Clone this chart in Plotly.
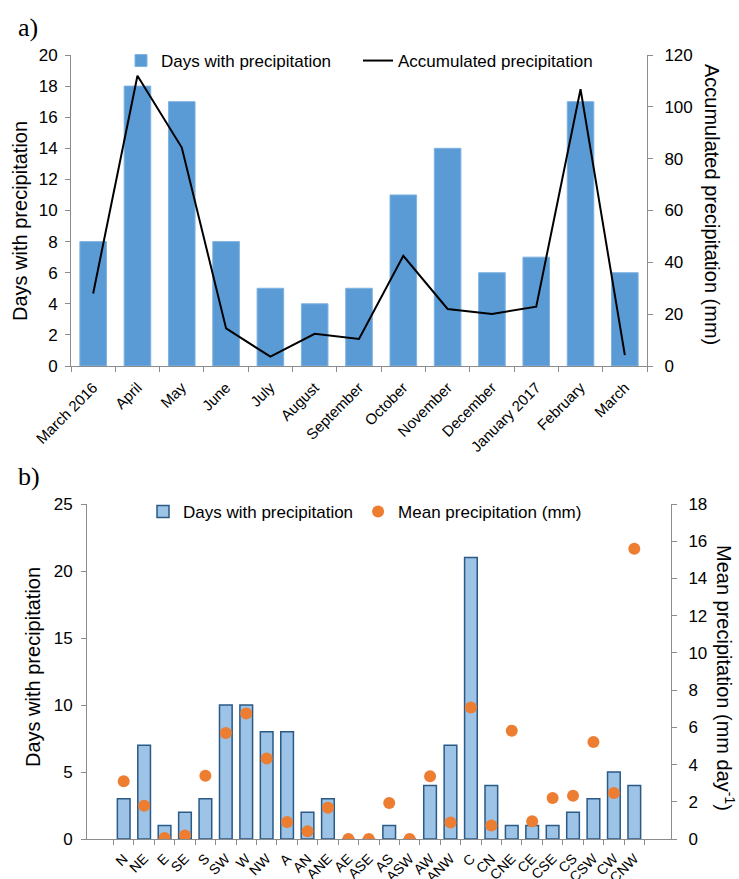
import plotly.graph_objects as go

# Panel a: monthly data
months = ["March 2016", "April", "May", "June", "July", "August", "September",
          "October", "November", "December", "January 2017", "February", "March"]
days_month = [8, 18, 17, 8, 5, 4, 5, 11, 14, 6, 7, 17, 6]
accum_precip = [28, 112, 84.3, 14.5, 3.6, 12.4, 10.4, 42.5, 22, 20.1, 22.9, 106.8, 4.2]

# Panel b: weather types
wtypes = ["N", "NE", "E", "SE", "S", "SW", "W", "NW", "A", "AN", "ANE", "AE", "ASE",
          "AS", "ASW", "AW", "ANW", "C", "CN", "CNE", "CE", "CSE", "CS", "CSW", "CW", "CNW"]
days_type = [3, 7, 1, 2, 3, 10, 10, 8, 8, 2, 3, 0, 0,
             1, 0, 4, 7, 21, 4, 1, 1, 1, 2, 3, 5, 4]
mean_precip = [3.1, 1.79, 0.05, 0.19, 3.4, 5.7, 6.74, 4.33, 0.91, 0.41, 1.68, 0.0, 0.0,
               1.94, 0.0, 3.37, 0.89, 7.06, 0.72, 5.82, 0.95, 2.2, 2.33, 5.21, 2.47, 15.59]

W, H = 739, 879
SANS = "Liberation Sans"
AXC = "#8c8c8c"


def px_x(p):
    return p / W


def px_y(p):
    return 1 - p / H


fig = go.Figure()

fig.add_trace(go.Bar(
    x=months, y=days_month, name="Days with precipitation",
    marker=dict(color="#5B9BD5", line=dict(color="#7fb2e0", width=1)),
    width=0.6, xaxis="x", yaxis="y", legend="legend"))
fig.add_trace(go.Scatter(
    x=months, y=accum_precip, name="Accumulated precipitation", mode="lines",
    line=dict(color="black", width=2), xaxis="x", yaxis="y2", legend="legend"))

fig.add_trace(go.Bar(
    x=wtypes, y=days_type, name="Days with precipitation",
    marker=dict(color="#9DC3E6", line=dict(color="#2A5A85", width=1.5)),
    width=0.62, xaxis="x2", yaxis="y3", legend="legend2"))
fig.add_trace(go.Scatter(
    x=wtypes, y=mean_precip, name="Mean precipitation (mm)", mode="markers",
    marker=dict(color="#ED7D31", size=12), xaxis="x2", yaxis="y4", legend="legend2"))

axis_common = dict(showline=True, linecolor=AXC, linewidth=1, ticks="outside",
                   tickcolor=AXC, ticklen=5, showgrid=False, zeroline=False,
                   automargin=False,
                   tickfont=dict(family=SANS, size=17, color="black"))


def xfont(size):
    return {**axis_common, "tickfont": dict(family=SANS, size=size, color="black")}


fig.update_layout(
    template="none",
    width=W, height=H, margin=dict(l=0, r=0, t=0, b=0, autoexpand=False),
    paper_bgcolor="white", plot_bgcolor="white", showlegend=True,
    xaxis=dict(domain=[px_x(71), px_x(647)], anchor="y", type="category",
               tickangle=-45, tickson="boundaries", ticklabelstandoff=6,
               **xfont(15)),
    yaxis=dict(domain=[px_y(366), px_y(55)], anchor="x", range=[0, 20], dtick=2,
               ticklabelstandoff=4, **axis_common),
    yaxis2=dict(overlaying="y", side="right", anchor="x", range=[0, 120], dtick=20,
                ticklabelstandoff=8, **axis_common),
    xaxis2=dict(domain=[px_x(87), px_x(671)], anchor="y3", type="category",
                tickangle=-45, tickson="boundaries", ticklabelstandoff=5,
                **xfont(14)),
    yaxis3=dict(domain=[px_y(839), px_y(504)], anchor="x2", range=[0, 25], dtick=5,
                ticklabelstandoff=5, **axis_common),
    yaxis4=dict(overlaying="y3", side="right", anchor="x2", range=[0, 18], dtick=2,
                ticklabelstandoff=8, **axis_common),
    legend=dict(orientation="h", x=px_x(121), y=px_y(43), xanchor="left", yanchor="top",
                font=dict(family=SANS, size=17, color="black"), bgcolor="rgba(0,0,0,0)",
                itemwidth=30, entrywidth=192, entrywidthmode="pixels"),
    legend2=dict(orientation="h", x=px_x(143), y=px_y(494), xanchor="left", yanchor="top",
                 font=dict(family=SANS, size=17, color="black"), bgcolor="rgba(0,0,0,0)",
                 itemwidth=30),
    barmode="group",
)

annotations = [
    dict(text="a)", x=px_x(16), y=px_y(28), xanchor="left", yanchor="middle",
         font=dict(family="Liberation Serif", size=26, color="black")),
    dict(text="b)", x=px_x(16), y=px_y(476), xanchor="left", yanchor="middle",
         font=dict(family="Liberation Serif", size=26, color="black")),
    dict(text="Days with precipitation", x=px_x(20), y=px_y(221), textangle=-90,
         xanchor="center", yanchor="middle",
         font=dict(family=SANS, size=20, color="black")),
    dict(text="Accumulated precipitation (mm)", x=px_x(712), y=px_y(204), textangle=90,
         xanchor="center", yanchor="middle",
         font=dict(family=SANS, size=20, color="black")),
    dict(text="Days with precipitation", x=px_x(33), y=px_y(667), textangle=-90,
         xanchor="center", yanchor="middle",
         font=dict(family=SANS, size=20, color="black")),
    dict(text="Mean precipitation (mm day<sup>-1</sup>)", x=px_x(726), y=px_y(678),
         textangle=90, xanchor="center", yanchor="middle",
         font=dict(family=SANS, size=20, color="black")),
]
for a in annotations:
    a.update(xref="paper", yref="paper", showarrow=False)
fig.update_layout(annotations=annotations)

fig.write_html("out.html")
